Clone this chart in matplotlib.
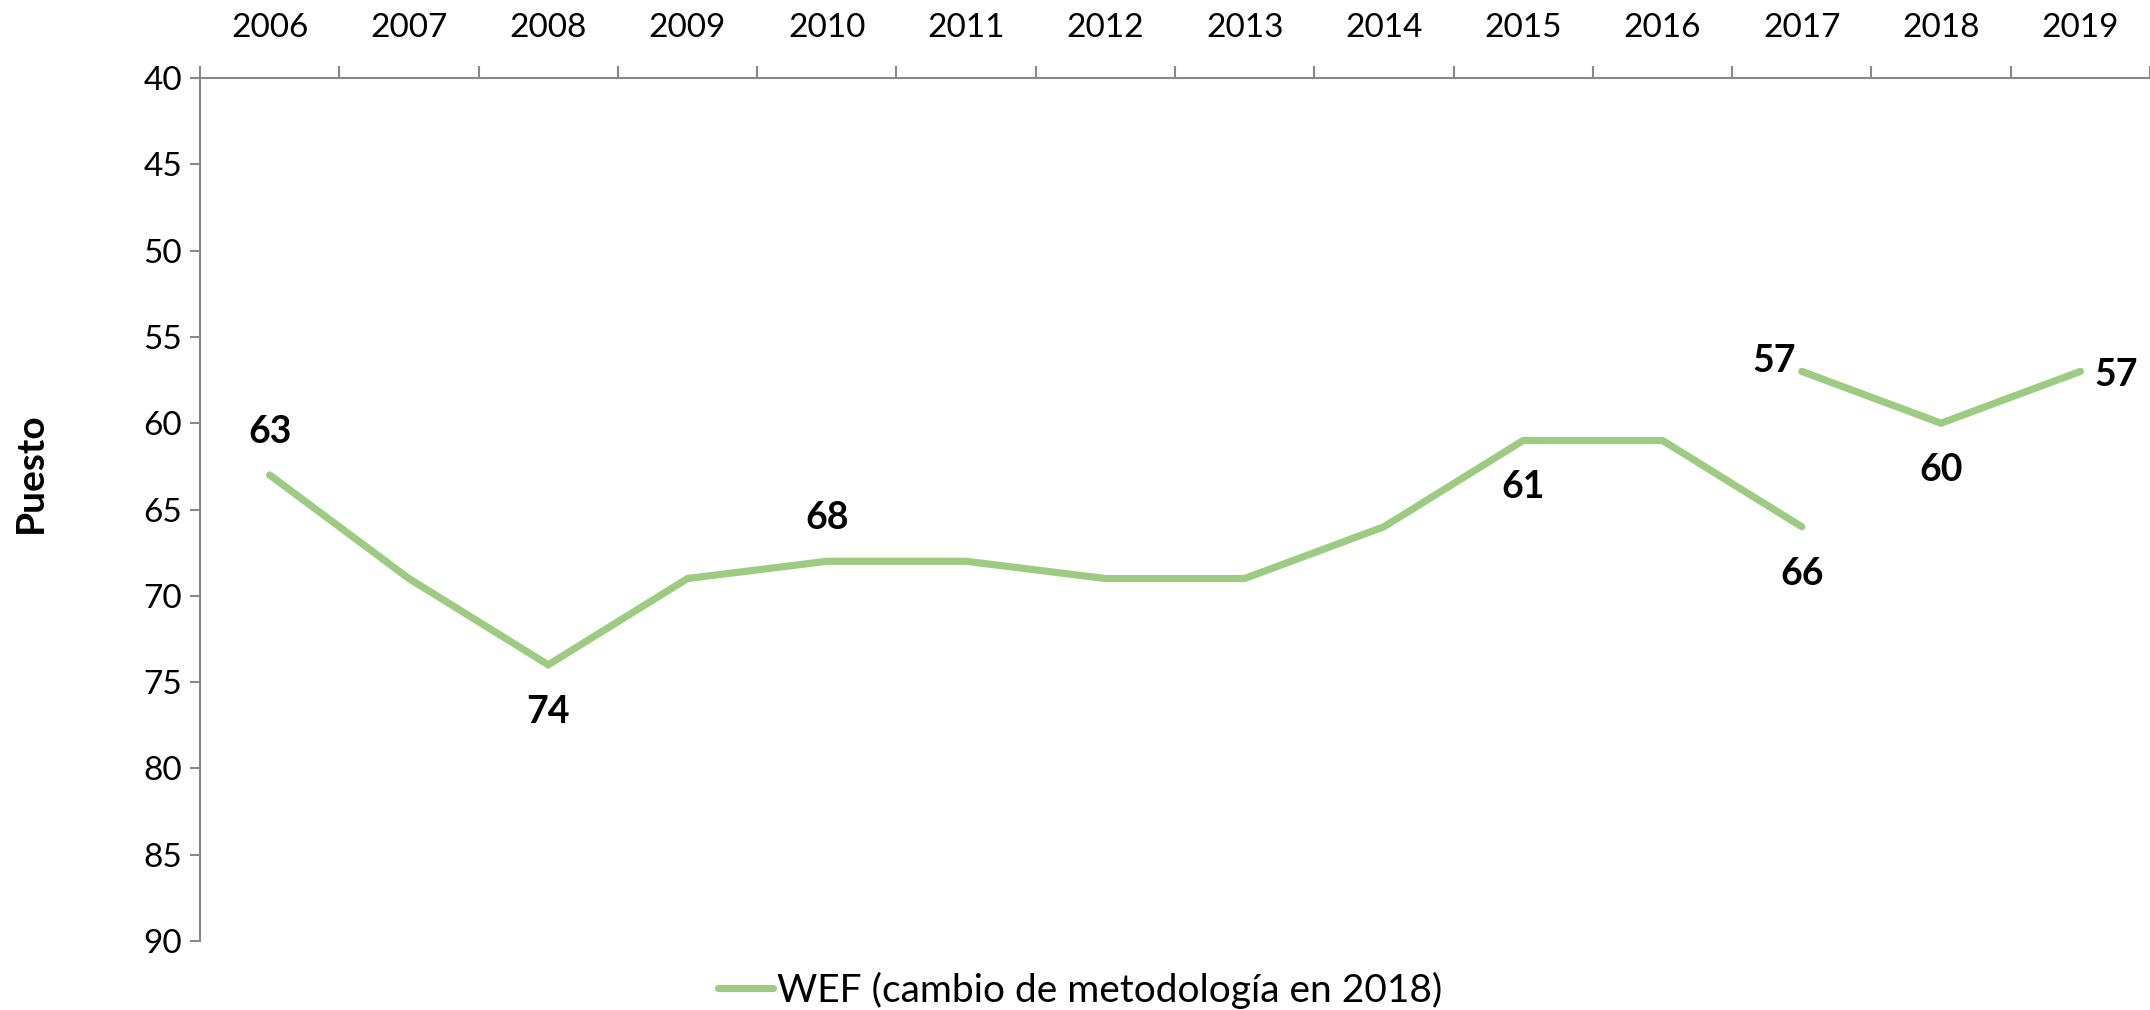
import matplotlib
matplotlib.use("Agg")
import matplotlib.pyplot as plt
import numpy as np

years = ["2006", "2007", "2008", "2009", "2010", "2011", "2012", "2013",
         "2014", "2015", "2016", "2017", "2018", "2019"]
wef_old = [63, 69, 74, 69, 68, 68, 69, 69, 66, 61, 61, 66]          # 2006-2017
wef_new_years = ["2017", "2018", "2019"]
wef_new = [57, 60, 57]
series_name = "WEF (cambio de metodología en 2018)"
y_ticks = [40, 45, 50, 55, 60, 65, 70, 75, 80, 85, 90]

# labelled points: (index, position)
labels_old = [(0, "above"), (2, "below"), (4, "above"), (9, "below"), (11, "below")]
labels_new = [(0, "left"), (1, "below"), (2, "right")]

plt.rcParams['font.family'] = ['Lato', 'DejaVu Sans']
GREEN = '#9DCB82'
GRAY = '#888888'

fig = plt.figure(figsize=(21.5, 10.1), dpi=100)
ax = fig.add_axes([200/2150, 1-941/1010, 1950/2150, (941-78)/1010])

x_old = np.arange(len(wef_old))
x_new = np.array([years.index(y) for y in wef_new_years])
ax.plot(x_old, wef_old, color=GREEN, lw=5.2, solid_capstyle='round',
        solid_joinstyle='miter', label=series_name)
ax.plot(x_new, wef_new, color=GREEN, lw=5.2, solid_capstyle='round',
        solid_joinstyle='miter')

ax.set_xlim(-0.5, len(years) - 0.5)
ax.set_ylim(90, 40)
ax.set_yticks(y_ticks)
ax.set_yticklabels([str(v) for v in y_ticks])

ax.xaxis.tick_top()
ax.set_xticks(np.arange(len(years)))
ax.set_xticklabels(years)
ax.set_xticks(np.arange(len(years) + 1) - 0.5, minor=True)
ax.tick_params(axis='x', which='major', length=0, pad=25, labelsize=24)
ax.tick_params(axis='x', which='minor', length=9, width=1.5, color=GRAY)
ax.tick_params(axis='y', which='major', length=7, width=1.5, color=GRAY,
               pad=6, labelsize=24)

for s in ['right', 'bottom']:
    ax.spines[s].set_visible(False)
for s in ['top', 'left']:
    ax.spines[s].set_color(GRAY)
    ax.spines[s].set_linewidth(1.5)

ax.set_ylabel("Puesto", fontsize=28, fontweight='bold', va='center')
ax.yaxis.set_label_coords(-(200 - 30)/1950, (941 - 473)/863)

offsets = {"above": (0, 43, 'center', 'center'),
           "below": (0, -47, 'center', 'center'),
           "left": (-6, 10, 'right', 'center'),
           "right": (14, -4, 'left', 'center')}

def put(xs, ys, specs):
    for i, pos in specs:
        dx, dy, ha, va = offsets[pos]
        ax.annotate(str(ys[i]), (xs[i], ys[i]), xytext=(dx, dy),
                    textcoords='offset pixels', ha=ha, va=va,
                    fontsize=27, fontweight='bold', annotation_clip=False)

put(x_old, wef_old, labels_old)
put(x_new, wef_new, labels_new)

fig.legend(loc='center', bbox_to_anchor=(1080/2150, 1-990/1010), frameon=False,
           fontsize=28, handlelength=1.4, handletextpad=0.1)

fig.savefig("out.png", dpi=100)
